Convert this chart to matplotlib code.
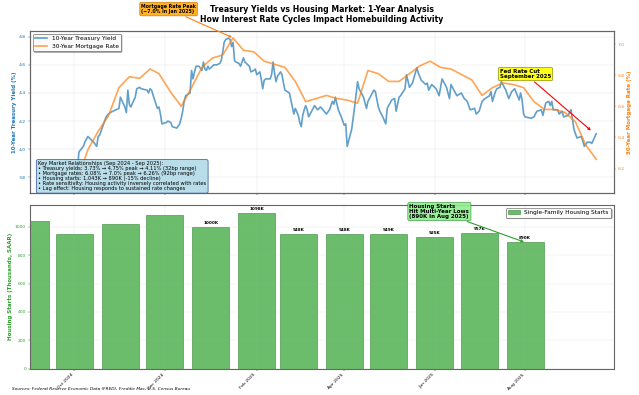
import matplotlib
matplotlib.use('Agg')
import matplotlib.pyplot as plt
import matplotlib.dates as mdates
import pandas as pd
import numpy as np

# ---------------- data ----------------
treasury_dates = [
    '2024-10-01', '2024-10-02', '2024-10-03', '2024-10-04', '2024-10-07', '2024-10-08', '2024-10-10',
    '2024-10-11', '2024-10-14', '2024-10-16', '2024-10-17', '2024-10-18', '2024-10-21', '2024-10-22',
    '2024-10-23', '2024-10-25', '2024-10-29', '2024-10-31', '2024-11-01', '2024-11-04', '2024-11-05',
    '2024-11-06', '2024-11-07', '2024-11-08', '2024-11-11', '2024-11-12', '2024-11-14', '2024-11-15',
    '2024-11-19', '2024-11-20', '2024-11-21', '2024-11-22', '2024-11-25', '2024-11-26', '2024-11-27',
    '2024-11-28', '2024-11-29', '2024-12-02', '2024-12-03', '2024-12-05', '2024-12-06', '2024-12-09',
    '2024-12-11', '2024-12-12', '2024-12-13', '2024-12-14', '2024-12-15', '2024-12-18', '2024-12-19',
    '2024-12-20', '2024-12-21', '2024-12-22', '2024-12-24', '2024-12-26', '2024-12-27', '2024-12-28',
    '2024-12-29', '2024-12-30', '2024-12-31', '2025-01-03', '2025-01-05', '2025-01-07', '2025-01-08',
    '2025-01-09', '2025-01-10', '2025-01-11', '2025-01-13', '2025-01-14', '2025-01-15', '2025-01-16',
    '2025-01-17', '2025-01-18', '2025-01-20', '2025-01-21', '2025-01-23', '2025-01-24', '2025-01-27',
    '2025-01-28', '2025-01-30', '2025-01-31', '2025-02-01', '2025-02-03', '2025-02-04', '2025-02-05',
    '2025-02-06', '2025-02-07', '2025-02-10', '2025-02-11', '2025-02-12', '2025-02-13', '2025-02-14',
    '2025-02-15', '2025-02-17', '2025-02-18', '2025-02-19', '2025-02-20', '2025-02-23', '2025-02-25',
    '2025-02-26', '2025-02-27', '2025-03-01', '2025-03-02', '2025-03-03', '2025-03-04', '2025-03-05',
    '2025-03-06', '2025-03-07', '2025-03-08', '2025-03-10', '2025-03-12', '2025-03-14', '2025-03-16',
    '2025-03-20', '2025-03-22', '2025-03-24', '2025-03-25', '2025-03-26', '2025-03-28', '2025-03-30',
    '2025-04-01', '2025-04-02', '2025-04-03', '2025-04-06', '2025-04-08', '2025-04-10', '2025-04-11',
    '2025-04-14', '2025-04-16', '2025-04-17', '2025-04-19', '2025-04-21', '2025-04-22', '2025-04-24',
    '2025-04-25', '2025-04-27', '2025-04-29', '2025-04-30', '2025-05-03', '2025-05-05', '2025-05-06',
    '2025-05-08', '2025-05-09', '2025-05-12', '2025-05-13', '2025-05-15', '2025-05-17', '2025-05-20',
    '2025-05-21', '2025-05-23', '2025-05-26', '2025-05-27', '2025-05-28', '2025-05-30', '2025-06-02',
    '2025-06-04', '2025-06-06', '2025-06-09', '2025-06-11', '2025-06-12', '2025-06-14', '2025-06-16',
    '2025-06-19', '2025-06-21', '2025-06-23', '2025-06-25', '2025-06-28', '2025-06-29', '2025-07-01',
    '2025-07-03', '2025-07-05', '2025-07-08', '2025-07-09', '2025-07-10', '2025-07-12', '2025-07-13',
    '2025-07-15', '2025-07-16', '2025-07-19', '2025-07-21', '2025-07-23', '2025-07-25', '2025-07-28',
    '2025-07-29', '2025-07-30', '2025-07-31', '2025-08-01', '2025-08-05', '2025-08-07', '2025-08-09',
    '2025-08-12', '2025-08-13', '2025-08-15', '2025-08-17', '2025-08-18', '2025-08-19', '2025-08-20',
    '2025-08-23', '2025-08-24', '2025-08-26', '2025-08-27', '2025-08-30', '2025-09-01', '2025-09-02',
    '2025-09-03', '2025-09-05', '2025-09-08', '2025-09-10', '2025-09-12', '2025-09-14', '2025-09-15',
    '2025-09-18',
]
treasury_yield = [
    3.73, 3.79, 3.85, 3.98, 4.02, 4.05, 4.09,
    4.08, 4.05, 4.02, 4.09, 4.10, 4.19, 4.22,
    4.24, 4.26, 4.28, 4.29, 4.37, 4.30, 4.26,
    4.42, 4.32, 4.30, 4.37, 4.43, 4.44, 4.43,
    4.42, 4.40, 4.43, 4.42, 4.32, 4.29, 4.30,
    4.25, 4.18, 4.19, 4.20, 4.19, 4.16, 4.15,
    4.18, 4.22, 4.27, 4.34, 4.38, 4.40, 4.56,
    4.50, 4.55, 4.59, 4.59, 4.56, 4.62, 4.57,
    4.56, 4.59, 4.57, 4.60, 4.60, 4.61, 4.63,
    4.69, 4.76, 4.78, 4.79, 4.78, 4.73, 4.76,
    4.63, 4.62, 4.61, 4.59, 4.65, 4.62, 4.59,
    4.55, 4.56, 4.57, 4.53, 4.55, 4.50, 4.43,
    4.49, 4.50, 4.50, 4.53, 4.62, 4.54, 4.48,
    4.52, 4.55, 4.53, 4.47, 4.42, 4.40, 4.30,
    4.25, 4.29, 4.24, 4.19, 4.16, 4.24, 4.28,
    4.31, 4.28, 4.23, 4.27, 4.31, 4.28, 4.30,
    4.25, 4.28, 4.34, 4.32, 4.37, 4.28, 4.23,
    4.17, 4.18, 4.02, 4.14, 4.30, 4.48, 4.43,
    4.37, 4.29, 4.34, 4.38, 4.42, 4.41, 4.30,
    4.27, 4.23, 4.18, 4.29, 4.35, 4.36, 4.27,
    4.37, 4.38, 4.43, 4.53, 4.44, 4.47, 4.58,
    4.54, 4.49, 4.46, 4.47, 4.42, 4.46, 4.43,
    4.38, 4.50, 4.44, 4.36, 4.46, 4.42, 4.38,
    4.40, 4.36, 4.34, 4.28, 4.29, 4.25, 4.27,
    4.34, 4.36, 4.38, 4.41, 4.34, 4.41, 4.43,
    4.44, 4.48, 4.42, 4.36, 4.41, 4.43, 4.35,
    4.40, 4.35, 4.25, 4.23, 4.22, 4.23, 4.27,
    4.28, 4.24, 4.33, 4.34, 4.31, 4.34, 4.28,
    4.28, 4.25, 4.27, 4.23, 4.24, 4.28, 4.21,
    4.14, 4.08, 4.09, 4.02, 4.05, 4.05, 4.04,
    4.11,
]

mortgage_dates = [
    '2024-09-26', '2024-10-03', '2024-10-10', '2024-10-17', '2024-10-24', '2024-10-31', '2024-11-07',
    '2024-11-14', '2024-11-21', '2024-11-27', '2024-12-05', '2024-12-12', '2024-12-19', '2024-12-26',
    '2025-01-02', '2025-01-09', '2025-01-16', '2025-01-23', '2025-01-30', '2025-02-06', '2025-02-13',
    '2025-02-20', '2025-02-27', '2025-03-06', '2025-03-13', '2025-03-20', '2025-03-27', '2025-04-03',
    '2025-04-10', '2025-04-17', '2025-04-24', '2025-05-01', '2025-05-08', '2025-05-15', '2025-05-22',
    '2025-05-29', '2025-06-05', '2025-06-12', '2025-06-18', '2025-06-26', '2025-07-03', '2025-07-10',
    '2025-07-17', '2025-07-24', '2025-07-31', '2025-08-07', '2025-08-14', '2025-08-21', '2025-08-28',
    '2025-09-04', '2025-09-11', '2025-09-18',
]
mortgage_rate = [
    6.08, 6.12, 6.32, 6.44, 6.54, 6.72, 6.79,
    6.78, 6.84, 6.81, 6.69, 6.60, 6.72, 6.85,
    6.91, 6.93, 7.04, 6.96, 6.95, 6.89, 6.87,
    6.85, 6.76, 6.63, 6.65, 6.67, 6.65, 6.64,
    6.62, 6.83, 6.81, 6.76, 6.76, 6.81, 6.86,
    6.89, 6.85, 6.84, 6.81, 6.77, 6.67, 6.72,
    6.75, 6.74, 6.72, 6.63, 6.58, 6.58, 6.56,
    6.50, 6.35, 6.26,
]

housing_months = ['2024-09-01', '2024-10-01', '2024-11-01', '2024-12-01', '2025-01-01', '2025-02-01',
                  '2025-03-01', '2025-04-01', '2025-05-01', '2025-06-01', '2025-07-01', '2025-08-01']
housing_starts = [1043, 950, 1017, 1080, 1000, 1098, 948, 948, 949, 925, 957, 890]
labeled_months = ['2025-01-01', '2025-02-01', '2025-03-01', '2025-04-01', '2025-05-01',
                  '2025-06-01', '2025-07-01', '2025-08-01']

title_text = ('Treasury Yields vs Housing Market: 1-Year Analysis\n'
              'How Interest Rate Cycles Impact Homebuilding Activity')
box_text = ('Key Market Relationships (Sep 2024 - Sep 2025):\n'
            '\u2022 Treasury yields: 3.73% \u2192 4.75% peak \u2192 4.11% (32bp range)\n'
            '\u2022 Mortgage rates: 6.08% \u2192 7.0% peak \u2192 6.26% (92bp range)\n'
            '\u2022 Housing starts: 1,043K \u2192 890K (-15% decline)\n'
            '\u2022 Rate sensitivity: Housing activity inversely correlated with rates\n'
            '\u2022 Lag effect: Housing responds to sustained rate changes')
source_text = 'Sources: Federal Reserve Economic Data (FRED), Freddie Mac, U.S. Census Bureau'

# ---------------- figure ----------------
td = pd.to_datetime(treasury_dates)
md = pd.to_datetime(mortgage_dates)
hd = pd.to_datetime(housing_months)

BLUE = '#1f77b4'
ORANGE = '#ff7f0e'
GREEN = '#2ca02c'

W, H = 639, 395
fig = plt.figure(figsize=(W / 40, H / 40), dpi=40)
ax1 = fig.add_axes([30 / W, 1 - 193.3 / H, 584 / W, (193.3 - 30.7) / H])
ax3 = fig.add_axes([30 / W, 1 - 368.7 / H, 584 / W, (368.7 - 205) / H], sharex=ax1)

l1, = ax1.plot(td, treasury_yield, color=BLUE, alpha=0.7, lw=3, label='10-Year Treasury Yield')
ax2 = ax1.twinx()
l2, = ax2.plot(md, mortgage_rate, color=ORANGE, alpha=0.7, lw=3, label='30-Year Mortgage Rate')

ax1.set_ylim(3.686, 4.843)
ax2.set_ylim(6.041, 7.086)
ax1.set_yticks(np.arange(3.8, 4.81, 0.2))
ax2.set_yticks(np.arange(6.2, 7.01, 0.2))
ax1.set_ylabel('10-Year Treasury Yield (%)', color=BLUE, fontsize=10, fontweight='bold')
ax2.set_ylabel('30-Year Mortgage Rate (%)', color=ORANGE, fontsize=10, fontweight='bold')
ax1.tick_params(axis='y', colors=BLUE, labelsize=8)
ax2.tick_params(axis='y', colors=ORANGE, labelsize=8)
ax1.tick_params(axis='x', labelbottom=False)
ax1.grid(True, alpha=0.3)

leg = ax2.legend(handles=[l1, l2], loc='upper left', fontsize=10.5, shadow=True, framealpha=0.95,
                 edgecolor='#555555')

ax2.text(0.014, 0.012, box_text, transform=ax2.transAxes, fontsize=9.3, va='bottom', ha='left',
         zorder=10, linespacing=1.0,
         bbox=dict(boxstyle='round,pad=0.35', facecolor='lightblue', edgecolor='#3050a0',
                   alpha=0.85, linewidth=1.5))

# annotations on top panel
ax2.annotate('Mortgage Rate Peak\n(~7.0% in Jan 2025)',
             xy=(pd.Timestamp('2025-01-16'), 7.04),
             xytext=(pd.Timestamp('2024-11-15'), 7.225), textcoords='data',
             fontsize=8.5, fontweight='bold', ha='left', va='center', annotation_clip=False,
             bbox=dict(boxstyle='round,pad=0.3', facecolor='orange', edgecolor='#b06000', alpha=0.85),
             arrowprops=dict(arrowstyle='->', color=ORANGE, lw=2))
ax2.annotate('Fed Rate Cut\nSeptember 2025',
             xy=(pd.Timestamp('2025-09-15'), 6.44),
             xytext=(pd.Timestamp('2025-07-15'), 6.807), textcoords='data',
             fontsize=9.8, fontweight='bold', ha='left', va='center', annotation_clip=False,
             linespacing=1.0,
             bbox=dict(boxstyle='round,pad=0.3', facecolor='yellow', edgecolor='#606000', alpha=0.9),
             arrowprops=dict(arrowstyle='->', color='red', lw=2))

# bottom panel
ax3.bar(hd, housing_starts, width=25, color=GREEN, alpha=0.7, edgecolor='darkgreen', linewidth=1,
        label='Single-Family Housing Starts')
for m, v in zip(housing_months, housing_starts):
    if m in labeled_months:
        ax3.text(pd.Timestamp(m), v + 15, f'{v}K', ha='center', va='bottom', fontsize=7.5,
                 fontweight='bold')
ax3.set_ylim(0, 1153)
ax3.set_yticks(np.arange(0, 1001, 200))
ax3.set_ylabel('Housing Starts (Thousands, SAAR)', color=GREEN, fontsize=10, fontweight='bold')
ax3.tick_params(axis='y', colors=GREEN, labelsize=8)
ax3.tick_params(axis='x', labelsize=8)
ax3.grid(True, alpha=0.3)
ax3.legend(loc='upper right', fontsize=10.5, shadow=True, framealpha=0.95, edgecolor='#555555')

ax3.annotate('Housing Starts\nHit Multi-Year Lows\n(890K in Aug 2025)',
             xy=(pd.Timestamp('2025-08-01'), 890),
             xytext=(pd.Timestamp('2025-05-15'), 1107), textcoords='data',
             fontsize=9.8, fontweight='bold', ha='left', va='center', annotation_clip=False,
             linespacing=1.0,
             bbox=dict(boxstyle='round,pad=0.3', facecolor='lightgreen', edgecolor='#208020', alpha=0.9),
             arrowprops=dict(arrowstyle='->', color=GREEN, lw=2))

ax3.xaxis.set_major_locator(mdates.MonthLocator(bymonth=[2, 4, 6, 8, 10, 12]))
ax3.xaxis.set_minor_locator(mdates.MonthLocator())
ax3.xaxis.set_major_formatter(mdates.DateFormatter('%b %Y'))
ax3.set_xlim(pd.Timestamp('2024-09-01'), pd.Timestamp('2025-09-30'))
for lab in ax3.get_xticklabels():
    lab.set_rotation(45)
    lab.set_ha('right')

for a in (ax1, ax2, ax3):
    for s in a.spines.values():
        s.set_color('#666666')
        s.set_linewidth(2)

fig.text(322 / W, 1 - 14.5 / H, title_text, ha='center', va='center', fontsize=14, fontweight='bold')
fig.text(12 / W, 1 - 389 / H, source_text, ha='left', va='center', fontsize=7.7, style='italic')

fig.savefig('out.png', dpi=40)
